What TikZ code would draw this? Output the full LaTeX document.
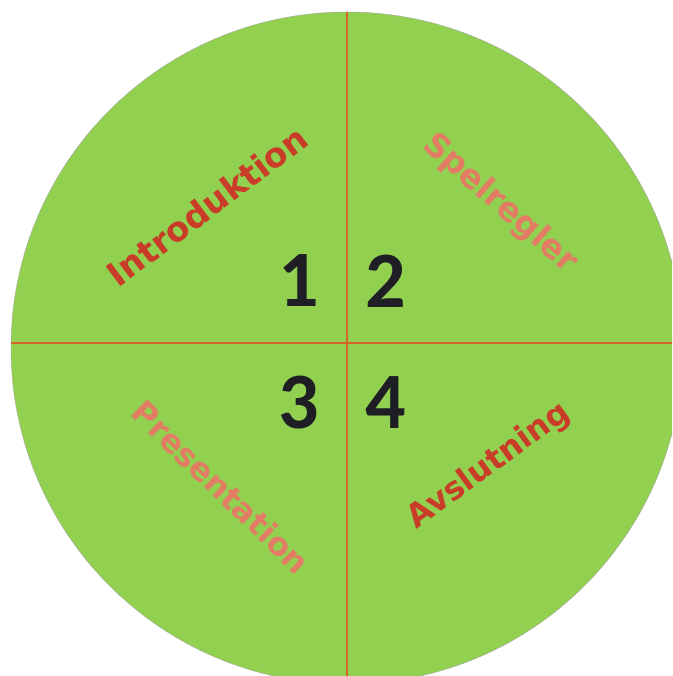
\documentclass[tikz,border=0pt]{standalone}
\usepackage{fontspec}
\setmainfont{DejaVu Sans}
\newfontfamily\numfont{Carlito}
\usetikzlibrary{positioning}
\definecolor{wheelgreen}{RGB}{146,208,80}
\definecolor{crossred}{RGB}{214,100,40}
\definecolor{titlered}{RGB}{200,60,40}
\definecolor{titlepink}{RGB}{226,124,100}
\definecolor{numdark}{RGB}{30,30,36}

\begin{document}
\begin{tikzpicture}[x=1pt, y=1pt,
    redtitle/.style={text=titlered, font=\bfseries\fontsize{34}{40}\selectfont, inner sep=0pt},
    pinktitle/.style={text=titlepink, font=\bfseries\fontsize{33}{40}\selectfont, inner sep=0pt},
    numeral/.style={text=numdark, font=\numfont\bfseries\fontsize{80}{90}\selectfont, inner sep=0pt},
]
    \useasboundingbox (0,0) rectangle (672,676);
    \clip (0,0) rectangle (672,676);
    % wheel and cross
    \node[circle, fill=wheelgreen, draw=gray!70, thin, minimum size=672pt, inner sep=0pt] (wheel) at (347,328) {};
    \draw[crossred, line width=1.4pt] ([yshift=5pt]wheel.west) -- ([yshift=5pt]wheel.east);
    \draw[crossred, line width=1.4pt] (wheel.north) -- (wheel.south);

    % quarter titles
    \node[redtitle, rotate=37] (intro) at (207,470) {Introduktion};
    \node[pinktitle, rotate=-41] (rules) at (500,472) {Spelregler};
    \node[pinktitle, rotate=-44, font=\bfseries\fontsize{32}{38}\selectfont] (pres) at (221,189) {Presentation};
    \node[redtitle, rotate=36, font=\bfseries\fontsize{32}{38}\selectfont] (outro) at (489,210) {Avslutning};

    % step numbers
    \node[numeral] (n1) at (299,395) {1};
    \node[numeral, right=87pt of n1.center, anchor=center] (n2) {2};
    \node[numeral] (n3) at (299,273) {3};
    \node[numeral, right=87pt of n3.center, anchor=center] (n4) {4};
\end{tikzpicture}
\end{document}
